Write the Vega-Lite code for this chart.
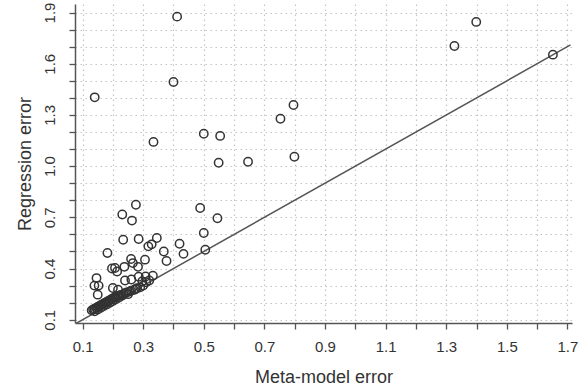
{
  "$schema": "https://vega.github.io/schema/vega-lite/v6.json",
  "autosize": "none",
  "width": 497,
  "height": 319,
  "padding": {"left": 75, "top": 4, "right": 9, "bottom": 69},
  "background": "white",
  "config": {
    "view": {"stroke": null},
    "font": "Liberation Sans",
    "axis": {
      "domainColor": "#555",
      "domainWidth": 1.5,
      "tickColor": "#555",
      "tickWidth": 1.3,
      "tickSize": 6,
      "labelFont": "Liberation Sans",
      "labelFontSize": 15,
      "labelColor": "#333",
      "labelOverlap": false,
      "titleFont": "Liberation Sans",
      "titleFontSize": 18,
      "titleFontWeight": "normal",
      "titleColor": "#333",
      "gridColor": "#c4c4c4",
      "gridDash": [1.5, 3.5],
      "gridWidth": 1.2,
      "gridOpacity": 1
    }
  },
  "datasets": {
    "pts": [
      {"meta": 0.14, "reg": 1.403}, {"meta": 0.412, "reg": 1.876}, {"meta": 0.4, "reg": 1.493},
      {"meta": 0.334, "reg": 1.142}, {"meta": 0.5, "reg": 1.19}, {"meta": 0.554, "reg": 1.177},
      {"meta": 0.549, "reg": 1.02}, {"meta": 0.646, "reg": 1.026}, {"meta": 0.753, "reg": 1.278},
      {"meta": 0.796, "reg": 1.358}, {"meta": 0.799, "reg": 1.055}, {"meta": 1.399, "reg": 1.845},
      {"meta": 1.327, "reg": 1.704}, {"meta": 1.652, "reg": 1.653},
      {"meta": 0.276, "reg": 0.774}, {"meta": 0.231, "reg": 0.717}, {"meta": 0.263, "reg": 0.681},
      {"meta": 0.488, "reg": 0.755}, {"meta": 0.545, "reg": 0.695}, {"meta": 0.5, "reg": 0.608},
      {"meta": 0.505, "reg": 0.51}, {"meta": 0.234, "reg": 0.569}, {"meta": 0.285, "reg": 0.573},
      {"meta": 0.345, "reg": 0.579}, {"meta": 0.182, "reg": 0.491}, {"meta": 0.317, "reg": 0.53},
      {"meta": 0.328, "reg": 0.542}, {"meta": 0.42, "reg": 0.545}, {"meta": 0.368, "reg": 0.5},
      {"meta": 0.377, "reg": 0.444}, {"meta": 0.433, "reg": 0.486}, {"meta": 0.26, "reg": 0.456},
      {"meta": 0.266, "reg": 0.432}, {"meta": 0.306, "reg": 0.452}, {"meta": 0.197, "reg": 0.4},
      {"meta": 0.207, "reg": 0.403}, {"meta": 0.238, "reg": 0.41}, {"meta": 0.283, "reg": 0.41},
      {"meta": 0.214, "reg": 0.383}, {"meta": 0.146, "reg": 0.344}, {"meta": 0.139, "reg": 0.3},
      {"meta": 0.153, "reg": 0.3}, {"meta": 0.15, "reg": 0.247}, {"meta": 0.24, "reg": 0.33},
      {"meta": 0.261, "reg": 0.336}, {"meta": 0.285, "reg": 0.352}, {"meta": 0.308, "reg": 0.354},
      {"meta": 0.332, "reg": 0.358}, {"meta": 0.2, "reg": 0.286}, {"meta": 0.217, "reg": 0.276},
      {"meta": 0.297, "reg": 0.325},
      {"meta": 0.13, "reg": 0.155}, {"meta": 0.135, "reg": 0.16}, {"meta": 0.14, "reg": 0.15},
      {"meta": 0.14, "reg": 0.165}, {"meta": 0.145, "reg": 0.17}, {"meta": 0.15, "reg": 0.16},
      {"meta": 0.15, "reg": 0.175}, {"meta": 0.155, "reg": 0.18}, {"meta": 0.16, "reg": 0.17},
      {"meta": 0.16, "reg": 0.185}, {"meta": 0.165, "reg": 0.19}, {"meta": 0.17, "reg": 0.18},
      {"meta": 0.17, "reg": 0.195}, {"meta": 0.175, "reg": 0.2}, {"meta": 0.18, "reg": 0.19},
      {"meta": 0.18, "reg": 0.205}, {"meta": 0.185, "reg": 0.21}, {"meta": 0.19, "reg": 0.2},
      {"meta": 0.19, "reg": 0.215}, {"meta": 0.195, "reg": 0.22}, {"meta": 0.2, "reg": 0.21},
      {"meta": 0.2, "reg": 0.225}, {"meta": 0.205, "reg": 0.23}, {"meta": 0.21, "reg": 0.22},
      {"meta": 0.21, "reg": 0.235}, {"meta": 0.215, "reg": 0.24}, {"meta": 0.22, "reg": 0.23},
      {"meta": 0.225, "reg": 0.245}, {"meta": 0.23, "reg": 0.24}, {"meta": 0.235, "reg": 0.25},
      {"meta": 0.24, "reg": 0.255}, {"meta": 0.245, "reg": 0.26}, {"meta": 0.25, "reg": 0.25},
      {"meta": 0.255, "reg": 0.265}, {"meta": 0.26, "reg": 0.27}, {"meta": 0.27, "reg": 0.275},
      {"meta": 0.275, "reg": 0.28}, {"meta": 0.28, "reg": 0.285}, {"meta": 0.29, "reg": 0.29},
      {"meta": 0.3, "reg": 0.3}, {"meta": 0.31, "reg": 0.32}, {"meta": 0.32, "reg": 0.33}
    ],
    "diag": [{"meta": 0.075, "reg": 0.075}, {"meta": 1.71, "reg": 1.71}]
  },
  "encoding": {
    "x": {
      "field": "meta", "type": "quantitative",
      "scale": {"domain": [0.075, 1.715], "nice": false, "zero": false},
      "axis": {
        "title": "Meta-model error",
        "values": [0.1,0.2,0.3,0.4,0.5,0.6,0.7,0.8,0.9,1.0,1.1,1.2,1.3,1.4,1.5,1.6,1.7],
        "labelExpr": "round(datum.value*10) % 2 == 1 ? format(datum.value, '.1f') : ''",
        "labelOverlap": false,
        "labelFlush": false,
        "labelPadding": 10,
        "titlePadding": 14,
        "grid": true
      }
    },
    "y": {
      "field": "reg", "type": "quantitative",
      "scale": {"domain": [0.081, 1.95], "nice": false, "zero": false},
      "axis": {
        "title": "Regression error",
        "values": [0.1,0.2,0.3,0.4,0.5,0.6,0.7,0.8,0.9,1.0,1.1,1.2,1.3,1.4,1.5,1.6,1.7,1.8,1.9],
        "labelExpr": "round(datum.value*10) % 3 == 1 ? format(datum.value, '.1f') : ''",
        "labelOverlap": false,
        "labelFlush": false,
        "labelAngle": 270,
        "labelAlign": "center",
        "labelBaseline": "bottom",
        "labelPadding": 12,
        "titlePadding": 8,
        "grid": true
      }
    }
  },
  "layer": [
    {
      "data": {"name": "diag"},
      "mark": {"type": "line", "color": "#555", "strokeWidth": 1.5, "clip": true}
    },
    {
      "data": {"name": "pts"},
      "mark": {"type": "point", "shape": "circle", "filled": false, "stroke": "#333", "strokeWidth": 1.5, "size": 70, "opacity": 1}
    }
  ]
}
